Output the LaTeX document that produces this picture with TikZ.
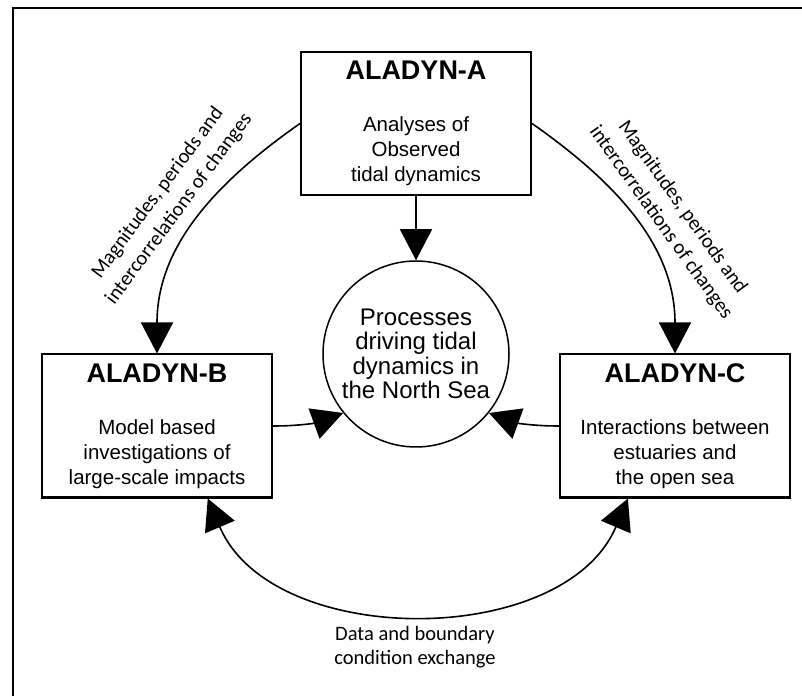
\documentclass[tikz,border=0pt]{standalone}
\usepackage{fontspec}
\setmainfont{Liberation Sans}
\newfontfamily\notefont{Carlito}
\usetikzlibrary{arrows.meta}
\newcommand{\titlefont}{\fontsize{27}{30}\selectfont\bfseries}
\newcommand{\bodyfont}{\fontsize{20.5}{25}\selectfont}
\newcommand{\circfont}{\fontsize{24}{24.5}\selectfont}
\newcommand{\notesize}{\notefont\fontsize{20.5}{24}\selectfont}
\newcommand{\slantsize}{\notefont\fontsize{20.5}{26.5}\selectfont}
\tikzset{
  module/.style={draw, line width=2pt, minimum width=230pt, minimum height=143pt,
    inner sep=0pt, align=center, font=\bodyfont},
  core/.style={draw, circle, line width=1.5pt, minimum size=186pt, inner sep=0pt,
    align=center, font=\circfont},
  note/.style={align=center, font=\notesize, inner sep=0pt},
  slantnote/.style={align=center, font=\slantsize, inner sep=0pt},
  link/.style={line width=1.6pt}
}

\begin{document}
\begin{tikzpicture}[x=1pt, y=1pt, >={Triangle[length=31pt,width=32pt]}]
	%%%%% START %%%%%
	\useasboundingbox (0,0) rectangle (802,696);
	\draw[line width=2pt] (13,0) -- (13,687.5) -- (802,687.5);

	% the three modules and the core question
	\node[module] (aladynA) at (416,572.5) {{\titlefont ALADYN-A}\\[27pt]Analyses of\\Observed\\tidal dynamics};
	\node[module] (aladynB) at (157,270) {{\titlefont ALADYN-B}\\[27pt]Model based\\investigations of\\large-scale impacts};
	\node[module] (aladynC) at (675,270) {{\titlefont ALADYN-C}\\[27pt]Interactions between\\estuaries and\\the open sea};
	\node[core] (core) at (416,342) {Processes\\driving tidal\\dynamics in\\the North Sea};

	% exchanges
	\draw[link,->] (aladynA.south) -- (core.north);
	\draw[link,->] (aladynA.west) to[out=215,in=90] (aladynB.north);
	\draw[link,->] (aladynA.east) to[out=-35,in=90] (aladynC.north);
	\draw[link,->] (aladynB.east) to[out=0,in=200] (core.219);
	\draw[link,->] (aladynC.west) to[out=180,in=-20] (core.-39);
	\draw[link,<->] (aladynB.-55) to[out=-67,in=-113] (aladynC.-123);

	\node[slantnote, rotate=53.5] (magB) at (168.5,495) {Magnitudes, periods and\\intercorrelations of changes};
	\node[slantnote, rotate=-54.5] (magC) at (671.5,481) {Magnitudes, periods and\\intercorrelations of changes};
	\node[note] (exch) at (415,49) {Data and boundary\\condition exchange};
	%%%%% END %%%%%
\end{tikzpicture}
\end{document}
